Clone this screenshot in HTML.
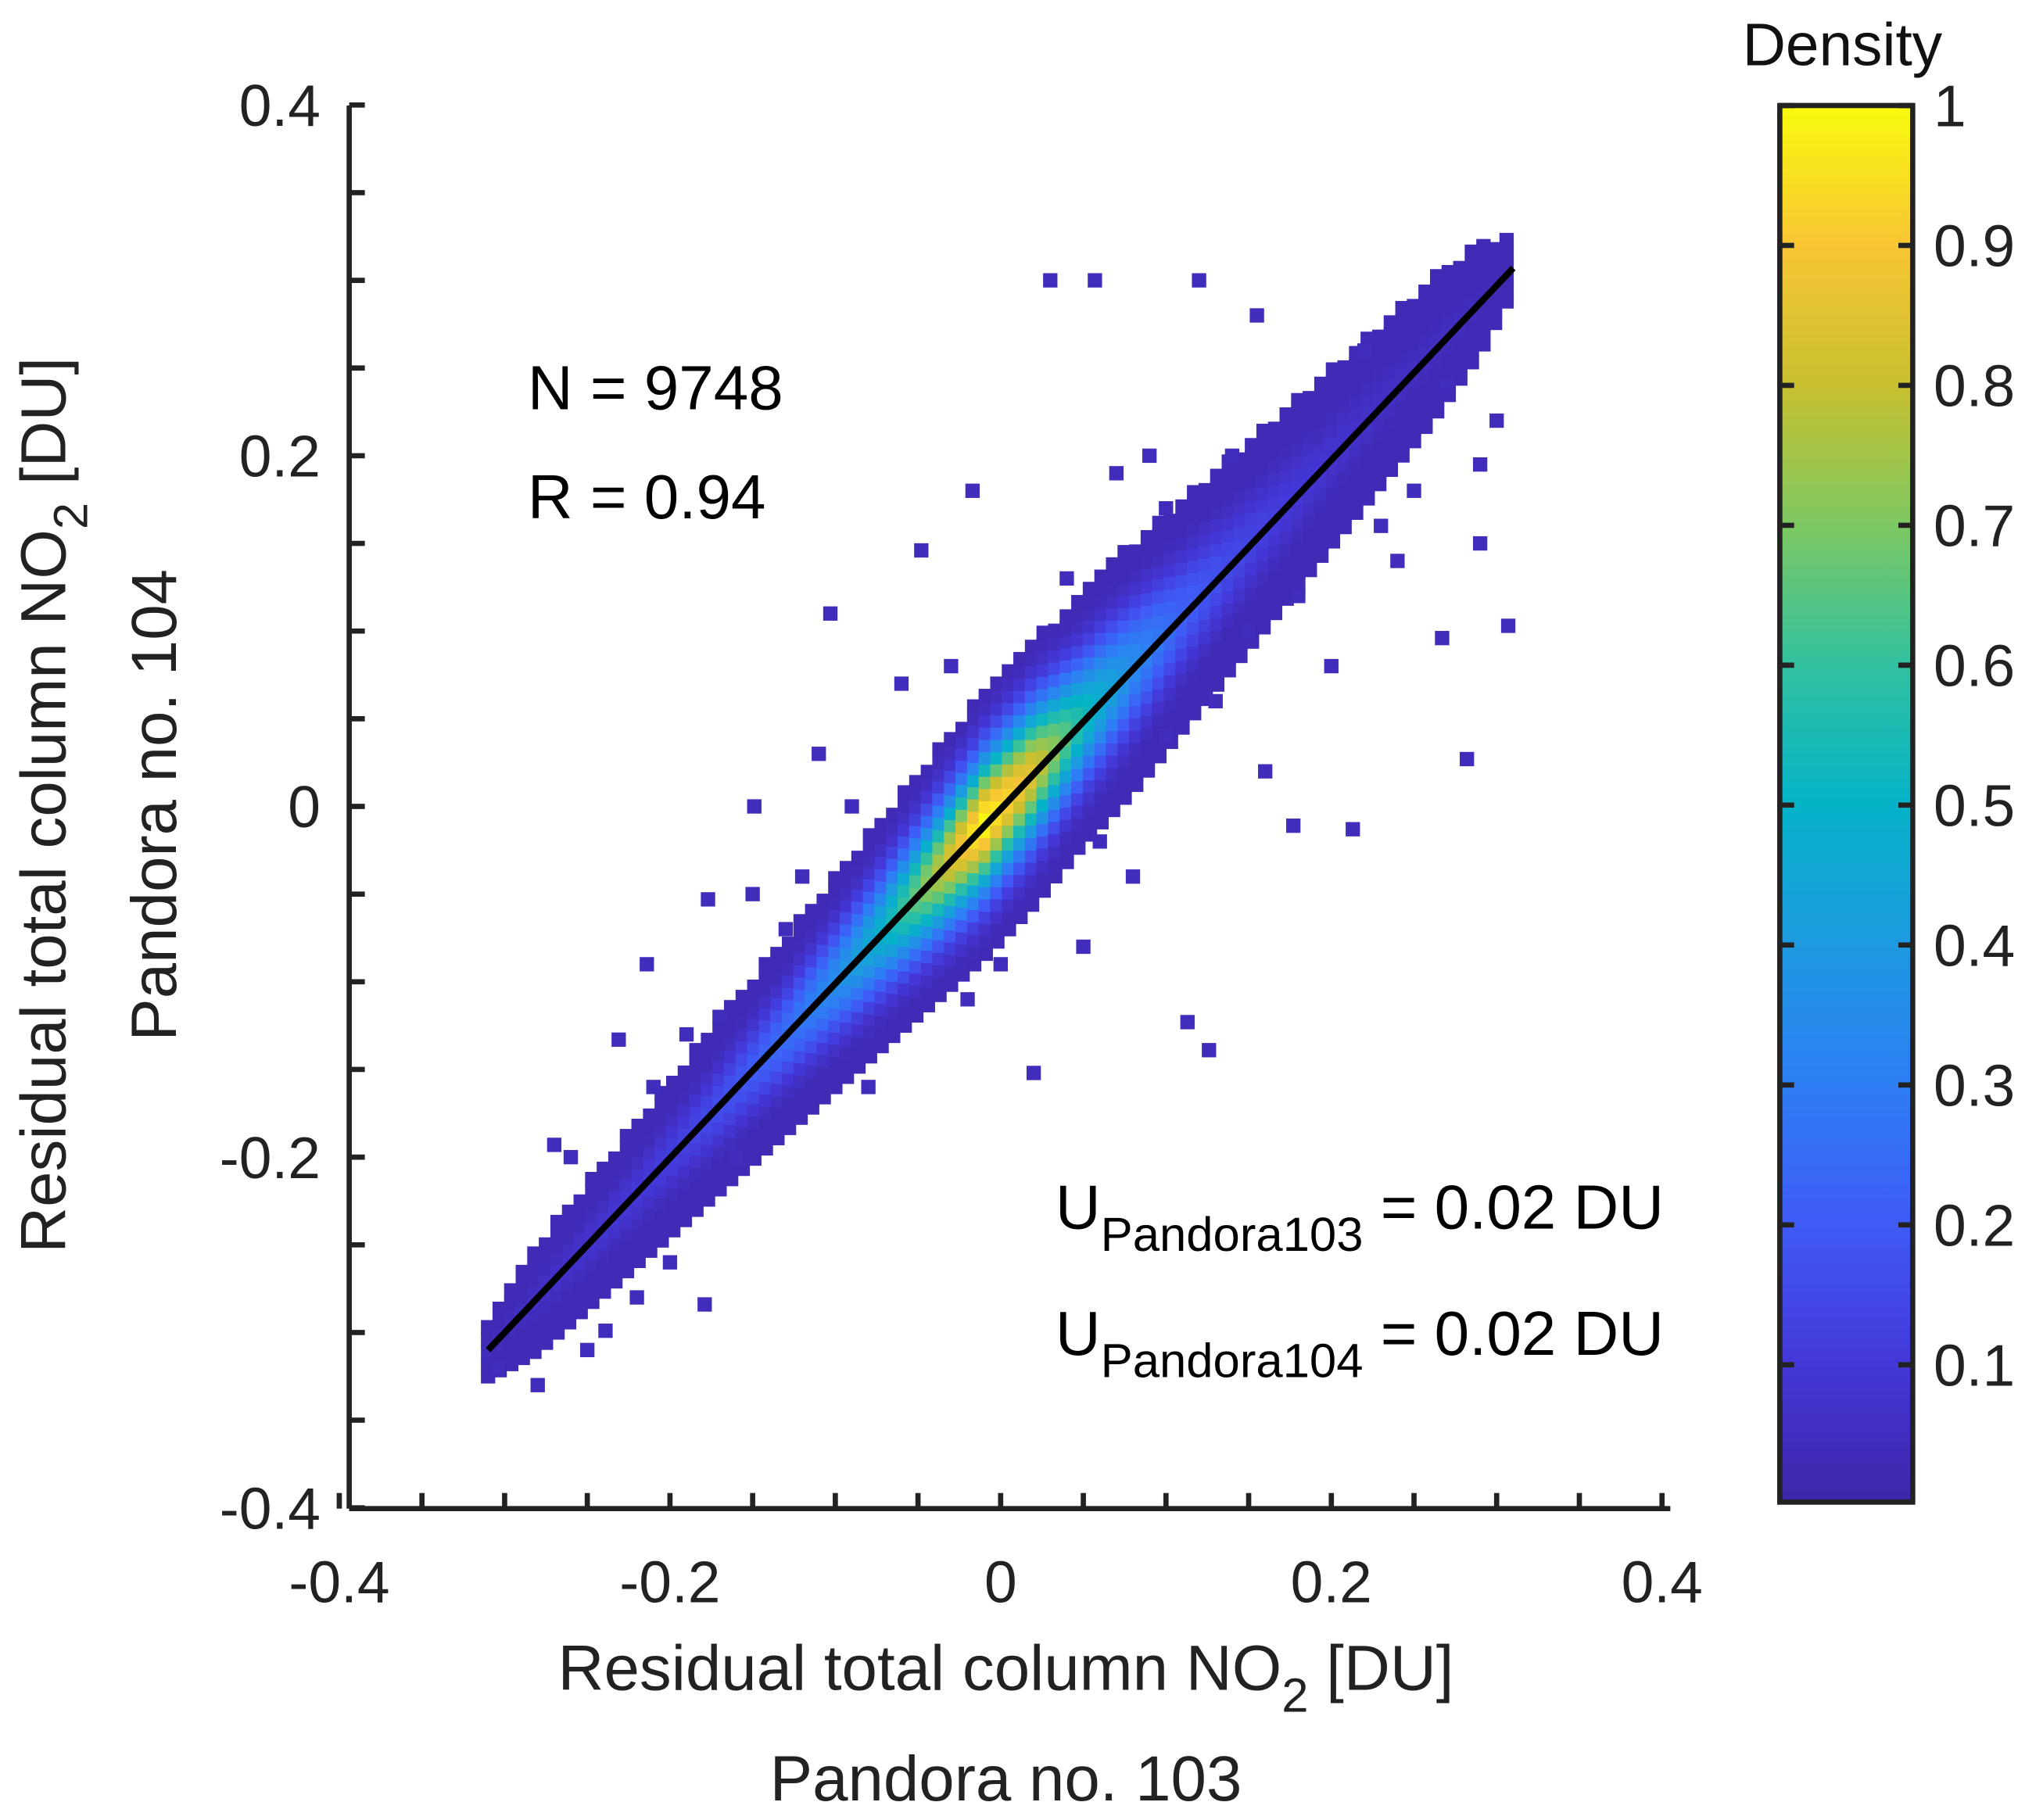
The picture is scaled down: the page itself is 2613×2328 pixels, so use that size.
<!DOCTYPE html>
<html><head><meta charset="utf-8"><style>
html,body{margin:0;padding:0;background:#fff;}
svg{display:block;font-family:"Liberation Sans",Arial,sans-serif;}
</style></head><body>
<svg id="chart" width="2613" height="2328" viewBox="0 0 1568 1397" xmlns="http://www.w3.org/2000/svg">
<defs>
<linearGradient id="parula" x1="0" y1="1" x2="0" y2="0">
<stop offset="0" stop-color="#3e26a8"/><stop offset="0.1" stop-color="#4437d8"/><stop offset="0.2" stop-color="#3f5bf6"/><stop offset="0.3" stop-color="#2d7ef4"/><stop offset="0.4" stop-color="#1d9ae0"/><stop offset="0.5" stop-color="#05b3c8"/><stop offset="0.6" stop-color="#32c19f"/><stop offset="0.7" stop-color="#7ec862"/><stop offset="0.8" stop-color="#c8c02f"/><stop offset="0.9" stop-color="#f8c534"/><stop offset="1" stop-color="#f9fb0e"/>
</linearGradient>
<clipPath id="plotclip"><rect x="268" y="81" width="1014" height="1077"/></clipPath>
</defs>
<g id="cells" clip-path="url(#plotclip)"></g>
<line id="fitline" stroke="#000" stroke-width="5"/>
<g id="axes"></g>
<text x="405" y="314" font-size="48">N = 9748</text>
<text x="405" y="398" font-size="48">R = 0.94</text>
<text x="810" y="943" font-size="48">U<tspan font-size="37" dy="17">Pandora103</tspan><tspan dy="-17"> = 0.02 DU</tspan></text>
<text x="810" y="1040" font-size="48">U<tspan font-size="37" dy="17">Pandora104</tspan><tspan dy="-17"> = 0.02 DU</tspan></text>
<text x="772" y="1297" font-size="49" text-anchor="middle" fill="#222">Residual total column NO<tspan font-size="37" dy="17">2</tspan><tspan dy="-17"> [DU]</tspan></text>
<text x="772" y="1382" font-size="49" text-anchor="middle" fill="#222">Pandora no. 103</text>
<g transform="translate(50,618) rotate(-90)">
<text x="0" y="0" font-size="49" text-anchor="middle" fill="#222">Residual total column NO<tspan font-size="37" dy="17">2</tspan><tspan dy="-17"> [DU]</tspan></text>
<text x="0" y="85" font-size="49" text-anchor="middle" fill="#222">Pandora no. 104</text>
</g>
<rect x="1366" y="81" width="102" height="1072" fill="url(#parula)" stroke="#222" stroke-width="4"/>
<g id="cbticks"></g>
<text x="1414" y="50" font-size="46" text-anchor="middle" fill="#111">Density</text>
</svg>
<script>
const bandX=[-0.31,-0.28,-0.25,-0.22,-0.19,-0.16,-0.13,-0.10,-0.07,-0.04,-0.01,0.02,0.05,0.08,0.11,0.14,0.17,0.20,0.23,0.26,0.29,0.31];
const bandHalfWidth=[0.015,0.03,0.035,0.04,0.045,0.05,0.055,0.06,0.065,0.07,0.075,0.075,0.07,0.07,0.065,0.06,0.055,0.05,0.045,0.04,0.03,0.015];
const bandPeak=[0.04,0.06,0.08,0.1,0.13,0.18,0.25,0.35,0.5,0.75,1.0,0.85,0.55,0.35,0.22,0.15,0.11,0.08,0.06,0.05,0.04,0.03];
const outX=[0.03,0.057,0.12,0.155,0.09,-0.017,-0.048,-0.103,-0.149,-0.177,-0.214,-0.231,-0.27,-0.239,-0.179,0.113,0.126,0.02,0.267,0.307,0.282,0.177,0.213,0.29,0.29,-0.304,-0.15,-0.11,0.0,0.2,0.24,-0.06,0.16,-0.2,0.08,-0.28,-0.26,-0.25,-0.22,-0.19,-0.16,-0.12,-0.09,-0.08,-0.03,0.05,0.1,0.14,0.18,0.22,0.25,0.27,0.3,0.23,0.19,0.15,0.1,0.06,-0.02,-0.13,-0.17,-0.21,0.04,0.07,0.13];
const outY=[0.30,0.30,0.30,0.28,0.20,0.18,0.146,0.11,0.0,-0.053,-0.09,-0.133,-0.193,-0.299,-0.284,-0.123,-0.139,-0.152,0.096,0.103,0.027,-0.011,-0.013,0.15,0.195,-0.32,-0.05,0.03,-0.09,0.08,0.14,0.07,0.02,-0.26,-0.04,-0.33,-0.2,-0.31,-0.28,-0.13,-0.2,-0.04,0.0,-0.16,0.08,-0.08,0.17,0.2,0.12,0.26,0.18,0.24,0.22,0.16,0.21,0.1,0.04,-0.02,-0.11,-0.07,-0.12,-0.16,0.13,0.19,0.06];
const fitX=[-0.31,0.31];
const fitY=[-0.31,0.307];
const xTicks=[-0.4,-0.2,0,0.2,0.4];
const xTickLabels=["-0.4","-0.2","0","0.2","0.4"];
const yTicks=[-0.4,-0.2,0,0.2,0.4];
const yTickLabels=["-0.4","-0.2","0","0.2","0.4"];
const cbTicks=[0.1,0.2,0.3,0.4,0.5,0.6,0.7,0.8,0.9,1];
const cbTickLabels=["0.1","0.2","0.3","0.4","0.5","0.6","0.7","0.8","0.9","1"];

const NS="http://www.w3.org/2000/svg";
const sx=v=>768+v*1269;
const sy=v=>619-v*1346;
const cy=v=>1155-v*1074;
const par=[[62,38,168],[68,55,216],[63,91,246],[45,126,244],[29,154,224],[5,179,200],[50,193,159],[126,200,98],[200,192,47],[248,197,52],[249,251,14]];
function parula(d){d=Math.max(0,Math.min(1,d));const f=d*10,i=Math.min(9,Math.floor(f)),t=f-i;const a=par[i],b=par[i+1];return `rgb(${a.map((c,k)=>Math.round(c+(b[k]-c)*t)).join(',')})`;}
function interp(arr,x){if(x<=bandX[0])return arr[0];for(let i=0;i<bandX.length-1;i++){if(x<=bandX[i+1]){const t=(x-bandX[i])/(bandX[i+1]-bandX[i]);return arr[i]+(arr[i+1]-arr[i])*t;}}return arr[arr.length-1];}
const g=document.getElementById('cells');
function cell(x,y,d){const r=document.createElementNS(NS,'rect');


r.setAttribute('x',sx(x)-5.5);r.setAttribute('y',sy(y)-5.5);r.setAttribute('width',11);r.setAttribute('height',11);r.setAttribute('fill',parula(d));g.appendChild(r);}
const step=0.007;
for(let x=bandX[0];x<=bandX[bandX.length-1]+1e-9;x+=step){
 const w=interp(bandHalfWidth,x),p=interp(bandPeak,x);
 for(let o=-w;o<=w+1e-9;o+=step){const d=p*Math.exp(-Math.pow(o/(w*0.5),2));cell(x,x+o,Math.max(0.03,d));}
}
for(let i=0;i<outX.length;i++)cell(outX[i],outY[i],0.04);
const fl=document.getElementById('fitline');
fl.setAttribute('x1',sx(fitX[0]));fl.setAttribute('y1',sy(fitY[0]));fl.setAttribute('x2',sx(fitX[1]));fl.setAttribute('y2',sy(fitY[1]));
const ax=document.getElementById('axes');
function el(tag,attrs,name,txt){const e=document.createElementNS(NS,tag);for(const k in attrs)e.setAttribute(k,attrs[k]);


if(txt!==undefined)e.textContent=txt;return e;}
ax.appendChild(el('line',{x1:268,y1:1158,x2:1282,y2:1158,stroke:'#222','stroke-width':4},'x-axis-line'));
ax.appendChild(el('line',{x1:268,y1:81,x2:268,y2:1158,stroke:'#222','stroke-width':4},'y-axis-line'));
for(let v=-0.4;v<=0.4001;v+=0.05){
 ax.appendChild(el('line',{x1:sx(v),y1:1158,x2:sx(v),y2:1146,stroke:'#222','stroke-width':4},'x-tick'));
 ax.appendChild(el('line',{x1:268,y1:sy(v),x2:280,y2:sy(v),stroke:'#222','stroke-width':4},'y-tick'));
}
xTicks.forEach((v,i)=>ax.appendChild(el('text',{x:sx(v),y:1230,'font-size':45,'text-anchor':'middle',fill:'#222'},'x-tick-label',xTickLabels[i])));
yTicks.forEach((v,i)=>ax.appendChild(el('text',{x:246,y:sy(v)+16,'font-size':45,'text-anchor':'end',fill:'#222'},'y-tick-label',yTickLabels[i])));
const cb=document.getElementById('cbticks');
cbTicks.forEach((v,i)=>{
 cb.appendChild(el('line',{x1:1366,y1:cy(v),x2:1377,y2:cy(v),stroke:'#222','stroke-width':4},'colorbar-tick'));
 cb.appendChild(el('line',{x1:1457,y1:cy(v),x2:1468,y2:cy(v),stroke:'#222','stroke-width':4},'colorbar-tick'));
 cb.appendChild(el('text',{x:1484,y:cy(v)+16,'font-size':45,fill:'#222'},'colorbar-tick-label',cbTickLabels[i]));
});
</script>
</body></html>
